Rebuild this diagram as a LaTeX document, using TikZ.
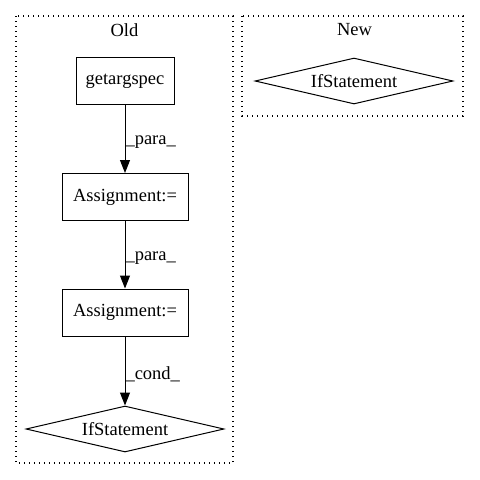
\documentclass[tikz,border=0pt]{standalone}
\usepackage{fontspec}
\setmainfont{Liberation Serif}
\usetikzlibrary{shapes.geometric,arrows.meta}
\tikzset{
	cluster/.style={dash pattern=on 1.3pt off 3.7pt,line width=1.3pt},%
	clustertitle/.style={font=\fontsize{18.5pt}{20pt}\selectfont},%
	stmt/.style={draw,line width=1pt,font=\fontsize{18.5pt}{20pt}\selectfont,inner sep=0pt,minimum height=47pt},%
	cond/.style={diamond,draw,line width=1pt,font=\fontsize{18.5pt}{20pt}\selectfont,inner sep=0pt,aspect=4.3,minimum width=198pt,minimum height=46pt},%
	flow/.style={-{Triangle[length=13pt,width=10pt]},line width=1pt},%
	flowlabel/.style={right,inner sep=0pt,font=\fontsize{18.5pt}{20pt}\selectfont},%
}

\begin{document}
\begin{tikzpicture}[x=1pt,y=-1pt]
	\useasboundingbox (0,0) rectangle (480,480);
	% Old {{{
	\draw[cluster] (16,16) rectangle (233,463);
	\node[clustertitle] (oldtitle) at (124.5,30) {Old};
	\node[stmt,minimum width=98pt] (getargspec) at (125,81) {getargspec};
	\node[stmt,minimum width=126pt] (assignA) at (125,197) {Assignment:=};
	\node[stmt,minimum width=126pt] (assignB) at (125,312.5) {Assignment:=};
	\node[cond] (oldif) at (125,429) {IfStatement};
	\draw[flow] (getargspec) -- (assignA) node[flowlabel,pos=0.55] {\_para\_};
	\draw[flow] (assignA) -- (assignB) node[flowlabel,pos=0.55] {\_para\_};
	\draw[flow] (assignB) -- (oldif) node[flowlabel,pos=0.55] {\_cond\_};
	% }}}
	% New {{{
	\draw[cluster] (242,16) rectangle (463,116);
	\node[clustertitle] (newtitle) at (354.5,30) {New};
	\node[cond] (newif) at (354,81) {IfStatement};
	% }}}
\end{tikzpicture}
\end{document}
